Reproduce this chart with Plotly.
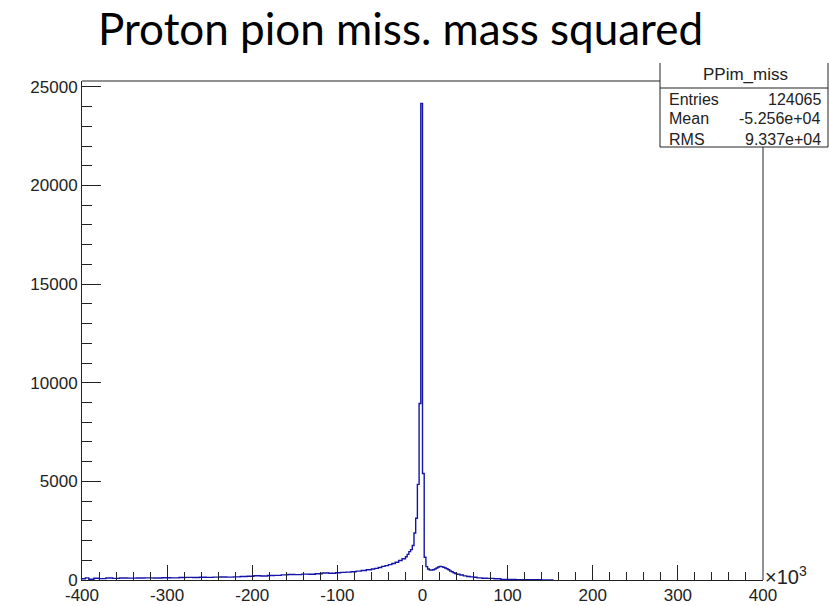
import plotly.graph_objects as go

# Histogram "PPim_miss": bin edges (x 10^3) and counts
bin_edges = [-400, -396, -392, -386, -380, -372, -364, -356, -346, -336, -326, -316, -306, -296,
             -286, -278, -270, -262, -254, -246, -238, -230, -222, -214, -206, -198, -190, -182,
             -174, -166, -158, -150, -142, -134, -126, -118, -110, -102, -96, -90, -84, -78, -72,
             -66, -60, -56, -52, -48, -44, -40, -36, -32, -28, -24, -20, -18, -16, -14, -12, -10,
             -8, -6, -4, -2, 0, 2, 4, 6, 8, 10, 12, 14, 16, 18, 20, 22, 24, 26, 28, 30, 32, 34, 36,
             38, 40, 44, 48, 52, 56, 60, 64, 70, 76, 84, 92, 100, 110, 120, 130, 140, 150, 154]
bin_counts = [60, 110, 40, 90, 70, 100, 80, 100, 95, 100, 110, 105, 115, 110,
              125, 135, 130, 140, 135, 145, 150, 145, 160, 175, 190, 215, 205, 225,
              235, 260, 280, 270, 300, 290, 320, 355, 345, 370, 385, 400, 420, 450,
              480, 520, 560, 590, 630, 690, 730, 780, 840, 900, 990, 1080, 1180, 1300,
              1440, 1540, 1750, 2380, 3130, 4850, 8950, 24160, 5400, 1150, 680, 560, 510,
              500, 520, 560, 610, 660, 690, 680, 650, 610, 570, 520, 460, 420, 370, 330,
              290, 250, 210, 180, 160, 140, 110, 90, 80, 65, 30, 25, 20, 15, 12, 8, 4]

x_ticks = [-400, -300, -200, -100, 0, 100, 200, 300, 400]
y_ticks = [0, 5000, 10000, 15000, 20000, 25000]

title_text = "Proton pion miss. mass squared"
stats_name = "PPim_miss"
stats_rows = [("Entries", "124065"), ("Mean", "-5.256e+04"), ("RMS", "9.337e+04")]

# geometry (pixels)
W, H = 830, 606
L, R, T, B = 82, 67, 81, 26
PW, PH = W - L - R, H - T - B


def px(xp):
    return (xp - L) / PW


def py(yp):
    return (H - B - yp) / PH


xs = bin_edges[:-1] + [bin_edges[-1]]
ys = bin_counts + [bin_counts[-1]]

fig = go.Figure()
fig.add_trace(go.Scatter(x=xs, y=ys, mode="lines", line=dict(shape="hv", color="#1414a8", width=1.4),
                         hoverinfo="skip", showlegend=False))
# empty trace so that the tick-only overlay axis is rendered
fig.add_trace(go.Scatter(x=[], y=[], xaxis="x2", yaxis="y", mode="lines", hoverinfo="skip", showlegend=False))

axis_font = dict(family="Liberation Sans, Arial, sans-serif", size=17, color="#222222")
x_range = [-400, 400]
fig.update_layout(xaxis=dict(range=x_range, tickvals=x_ticks, ticktext=[str(v) for v in x_ticks],
                             ticks="", automargin=False,
                             showline=True, linecolor="#222", linewidth=1, showgrid=False, zeroline=False,
                             tickfont=axis_font),
                  xaxis2=dict(range=x_range, overlaying="x", side="bottom", anchor="y",
                              tickvals=x_ticks, showticklabels=False, automargin=False,
                              ticks="inside", ticklen=15, tickwidth=1, tickcolor="#222",
                              minor=dict(dtick=20, tick0=0, ticks="inside", ticklen=8, tickwidth=1, tickcolor="#222"),
                              showline=False, showgrid=False, zeroline=False))
fig.update_yaxes(range=[0, 25300], tickvals=y_ticks, ticktext=[str(v) for v in y_ticks],
                 ticks="inside", ticklen=19, tickwidth=1, tickcolor="#222", automargin=False,
                 minor=dict(dtick=1000, tick0=0, ticks="inside", ticklen=10, tickwidth=1, tickcolor="#222"),
                 showline=True, linecolor="#222", linewidth=1, showgrid=False, zeroline=False,
                 tickfont=axis_font)

shapes = []
line_style = dict(color="#222", width=1)
box_l, box_r, box_t, box_b, box_sep = 660, 828, 63, 147, 88
# frame top and right (cut by stats box)
shapes.append(dict(type="line", xref="paper", yref="paper", x0=0, x1=px(box_l), y0=1, y1=1, line=line_style))
shapes.append(dict(type="line", xref="paper", yref="paper", x0=1, x1=1, y0=0, y1=py(box_b), line=line_style))
# stats box
shapes.append(dict(type="rect", xref="paper", yref="paper", x0=px(box_l), x1=px(box_r), y0=py(box_b), y1=py(box_t),
                   fillcolor="white", line=dict(width=0), layer="above"))
shapes.append(dict(type="line", xref="paper", yref="paper", x0=px(box_l), x1=px(box_l), y0=py(box_b), y1=py(box_t), line=line_style))
shapes.append(dict(type="line", xref="paper", yref="paper", x0=px(box_r), x1=px(box_r), y0=py(box_b), y1=py(box_t), line=line_style))
shapes.append(dict(type="line", xref="paper", yref="paper", x0=px(box_l), x1=px(box_r), y0=py(box_b), y1=py(box_b), line=line_style))
shapes.append(dict(type="line", xref="paper", yref="paper", x0=px(box_l), x1=px(box_r), y0=py(box_sep), y1=py(box_sep), line=line_style))

annotations = []
annotations.append(dict(text=title_text, xref="paper", yref="paper", x=px(96), y=py(28), xanchor="left", yanchor="middle",
                        showarrow=False, font=dict(family="Lato, Open Sans, sans-serif", size=44, color="black")))
stats_font = dict(family="Liberation Sans, Arial, sans-serif", size=16, color="#222")
annotations.append(dict(text=stats_name, xref="paper", yref="paper", x=px(745), y=py(74), xanchor="center", yanchor="middle",
                        showarrow=False, font=dict(family="Liberation Sans, Arial, sans-serif", size=17, color="#222")))
for i, (k, v) in enumerate(stats_rows):
    yy = 99 + 20 * i
    annotations.append(dict(text=k, xref="paper", yref="paper", x=px(667), y=py(yy), xanchor="left", yanchor="middle",
                            showarrow=False, font=stats_font))
    annotations.append(dict(text=v, xref="paper", yref="paper", x=px(823), y=py(yy), xanchor="right", yanchor="middle",
                            showarrow=False, font=stats_font))
annotations.append(dict(text="×10<sup>3</sup>", xref="paper", yref="paper", x=px(763), y=py(590), xanchor="left", yanchor="bottom",
                        showarrow=False, font=dict(family="Liberation Sans, Arial, sans-serif", size=20, color="#222")))

fig.update_layout(width=W, height=H, margin=dict(l=L, r=R, t=T, b=B), paper_bgcolor="white", plot_bgcolor="white",
                  shapes=shapes, annotations=annotations, showlegend=False)

fig.write_html("out.html")
